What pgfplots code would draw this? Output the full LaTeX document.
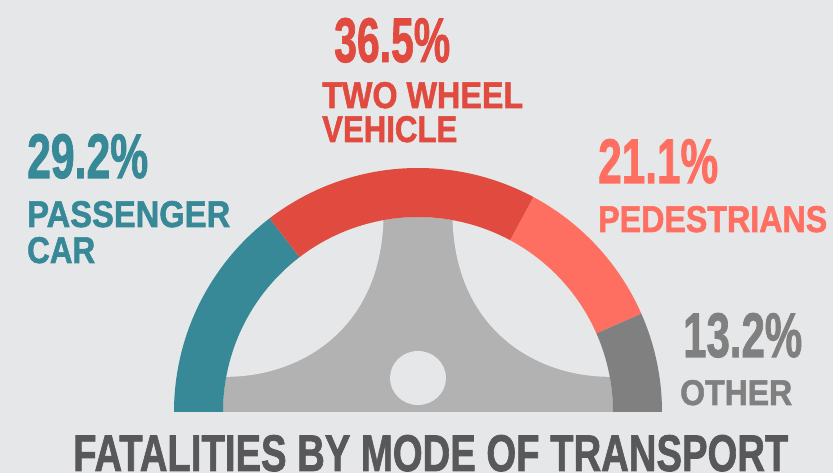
\documentclass[border=0pt]{standalone}
\usepackage{pgfplots}
\pgfplotsset{compat=1.18}
\usepackage{pgfplotstable}
\usepackage{fontspec}
\setmainfont{Liberation Sans}
\newfontfamily\heavy{Liberation Sans Bold}[FakeBold=1.6]
\definecolor{bg}{HTML}{E6E7E8}
\definecolor{cteal}{HTML}{388998}
\definecolor{cred}{HTML}{E04A3F}
\definecolor{csalmon}{HTML}{FF6F61}
\definecolor{cgray}{HTML}{808080}
\definecolor{wheel}{HTML}{B2B2B3}
\definecolor{ctitle}{HTML}{58585A}
\pgfplotstableread{
mode value
car 29.2
two 36.5
ped 21.1
other 13.2
}\fatal
\newcommand{\txt}[3]{\resizebox{#1bp}{#2bp}{\heavy #3}}
\newcommand{\seg}[3]{\fill[#3] (axis cs:418,61) ++(#1:244bp) arc[start angle=#1,end angle=#2,radius=244bp]
    -- ++(#2+180:49bp) arc[start angle=#2,end angle=#1,radius=195bp] -- cycle;}
\begin{document}
\begin{tikzpicture}
\pgfplotstablegetelem{0}{value}\of\fatal \let\vA\pgfplotsretval
\pgfplotstablegetelem{1}{value}\of\fatal \let\vB\pgfplotsretval
\pgfplotstablegetelem{2}{value}\of\fatal \let\vC\pgfplotsretval
\pgfplotstablegetelem{3}{value}\of\fatal \let\vD\pgfplotsretval
\pgfmathsetmacro\aA{180}
\pgfmathsetmacro\aB{\aA-1.8*\vA}
\pgfmathsetmacro\aC{\aB-1.8*\vB}
\pgfmathsetmacro\aD{\aC-1.8*\vC}
\pgfmathsetmacro\aE{\aD-1.8*\vD}
\begin{axis}[x=1bp,y=1bp,xmin=0,xmax=833,ymin=0,ymax=473,
  hide axis,scale only axis,clip=false]
\fill[bg] (axis cs:0,0) rectangle (axis cs:833,473);
% wheel
\fill[wheel] (axis cs:223,61) arc[start angle=180,end angle=0,radius=195bp] -- cycle;
\fill[bg] (axis cs:226.2,96.2) arc[start angle=169.6,end angle=100.2,radius=195bp]
   .. controls (axis cs:380,143) and (axis cs:300,96.2) .. (axis cs:226.2,96.2) -- cycle;
\fill[bg] (axis cs:609.8,96.2) arc[start angle=10.4,end angle=79.8,radius=195bp]
   .. controls (axis cs:456,143) and (axis cs:536,96.2) .. (axis cs:609.8,96.2) -- cycle;
\fill[bg] (axis cs:418,95) ellipse[x radius=28bp,y radius=27bp];
% donut segments
\seg{\aA}{\aB}{cteal}
\seg{\aB}{\aC}{cred}
\seg{\aC}{\aD}{csalmon}
\seg{\aD}{\aE}{cgray}
% labels
\node[anchor=base west,inner sep=0,text=cteal] at (axis cs:27,295) {\txt{121}{44}{29.2\%}};
\node[anchor=base west,inner sep=0,text=cteal] at (axis cs:27,246) {\txt{203}{26}{PASSENGER}};
\node[anchor=base west,inner sep=0,text=cteal] at (axis cs:27,210) {\txt{68}{26}{CAR}};
\node[anchor=base west,inner sep=0,text=cred] at (axis cs:334,411) {\txt{116}{44}{36.5\%}};
\node[anchor=base west,inner sep=0,text=cred] at (axis cs:322,365) {\txt{201}{26}{TWO WHEEL}};
\node[anchor=base west,inner sep=0,text=cred] at (axis cs:322,331) {\txt{135}{26}{VEHICLE}};
\node[anchor=base west,inner sep=0,text=csalmon] at (axis cs:598,290) {\txt{120}{44}{21.1\%}};
\node[anchor=base west,inner sep=0,text=csalmon] at (axis cs:598,241) {\txt{229}{26}{PEDESTRIANS}};
\node[anchor=base west,inner sep=0,text=cgray] at (axis cs:683,116) {\txt{119}{44}{13.2\%}};
\node[anchor=base west,inner sep=0,text=cgray] at (axis cs:680,68) {\txt{112}{25}{OTHER}};
\node[anchor=base west,inner sep=0,text=ctitle] at (axis cs:73,2) {\txt{715}{36}{FATALITIES BY MODE OF TRANSPORT}};
\end{axis}
\end{tikzpicture}
\end{document}
